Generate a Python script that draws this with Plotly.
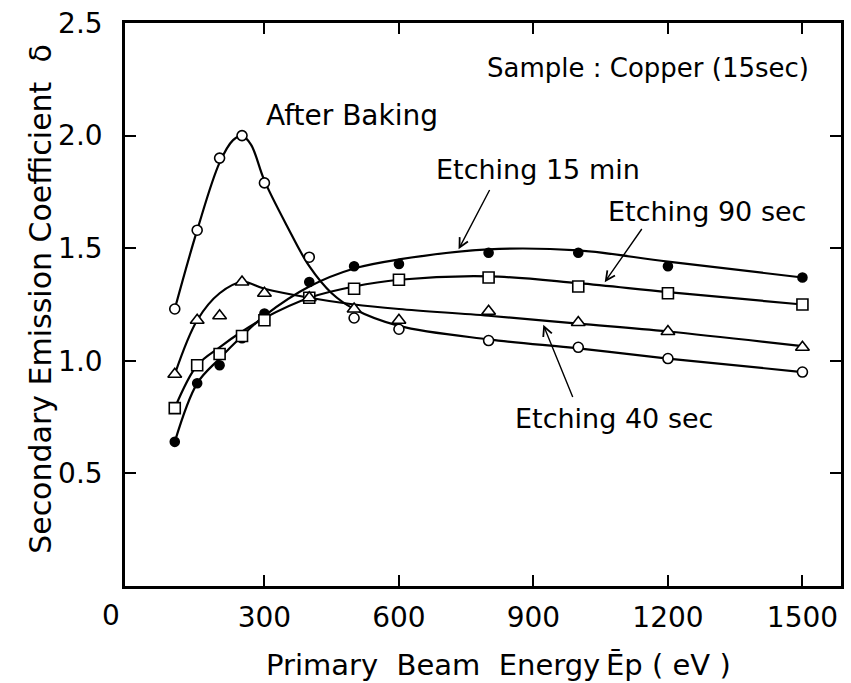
import plotly.graph_objects as go

# Primary beam energies (eV) at which delta was measured
energy = [100, 150, 200, 250, 300, 400, 500, 600, 800, 1000, 1200, 1500]

# Measured secondary emission coefficient for each surface treatment
after_baking = [1.23, 1.58, 1.90, 2.00, 1.79, 1.46, 1.19, 1.14, 1.09, 1.06, 1.01, 0.95]
etch_15min = [0.64, 0.90, 0.98, 1.10, 1.21, 1.35, 1.42, 1.43, 1.48, 1.48, 1.42, 1.37]
etch_90sec = [0.79, 0.98, 1.03, 1.11, 1.18, 1.28, 1.32, 1.36, 1.37, 1.33, 1.30, 1.25]
etch_40sec = [0.94, 1.18, 1.20, 1.35, 1.30, 1.28, 1.23, 1.18, 1.22, 1.17, 1.13, 1.06]

# Hand-fitted trend curves (node energies and values)
fit_ab_x = [100, 150, 200, 230, 250, 270, 300, 350, 400, 450, 500, 600, 800, 1000, 1200, 1500]
fit_ab_y = [1.23, 1.58, 1.88, 1.98, 2.00, 1.96, 1.80, 1.60, 1.42, 1.30, 1.23, 1.155, 1.095, 1.055, 1.01, 0.95]
fit_x = [100, 150, 200, 250, 300, 400, 500, 600, 800, 1000, 1200, 1500]
fit_15min = [0.64, 0.90, 1.01, 1.11, 1.20, 1.33, 1.41, 1.45, 1.495, 1.49, 1.44, 1.37]
fit_90sec = [0.79, 0.98, 1.06, 1.13, 1.19, 1.28, 1.33, 1.36, 1.375, 1.345, 1.305, 1.25]
fit_40sec = [0.94, 1.18, 1.30, 1.35, 1.32, 1.28, 1.25, 1.23, 1.20, 1.165, 1.13, 1.065]

x_ticks = [300, 600, 900, 1200, 1500]
y_ticks = [0.5, 1.0, 1.5, 2.0, 2.5]

FONT = "DejaVu Sans, sans-serif"
INK = "black"

fig = go.Figure()

for fx, fy in [(fit_ab_x, fit_ab_y), (fit_x, fit_15min), (fit_x, fit_90sec), (fit_x, fit_40sec)]:
    fig.add_trace(go.Scatter(x=fx, y=fy, mode="lines",
                             line=dict(color=INK, width=2.2, shape="spline", smoothing=1.0),
                             hoverinfo="skip", showlegend=False))

series = [
    ("After Baking", after_baking, "circle", 10, "white"),
    ("Etching 15 min", etch_15min, "circle", 9, INK),
    ("Etching 90 sec", etch_90sec, "square", 11, "white"),
    ("Etching 40 sec", etch_40sec, "triangle-up", 12, "white"),
]
for name, vals, sym, size, fill in series:
    fig.add_trace(go.Scatter(x=energy, y=vals, mode="markers", name=name,
                             marker=dict(symbol=sym, size=size, color=fill,
                                         line=dict(color=INK, width=1.6)),
                             showlegend=False))

labels = [
    ("Sample : Copper (15sec)", 1155, 2.30, 26),
    ("After Baking", 495, 2.09, 28),
    ("Etching 15 min", 911, 1.85, 27),
    ("Etching 90 sec", 1288, 1.665, 27),
    ("Etching 40 sec", 1079, 0.745, 27),
]
for text, x, y, sz in labels:
    fig.add_annotation(x=x, y=y, text=text, showarrow=False,
                       font=dict(family=FONT, size=sz, color=INK))

# Leader arrows from labels to their curves: (tip_x, tip_y, tail_x, tail_y)
leaders = [(733, 1.495, 804, 1.765), (1059, 1.349, 1144, 1.592), (922, 1.16, 989, 0.833)]
for tx, ty, sx, sy in leaders:
    fig.add_annotation(x=tx, y=ty, ax=sx, ay=sy, xref="x", yref="y", axref="x", ayref="y",
                       text="", showarrow=True, arrowhead=5, arrowsize=1.3,
                       arrowwidth=1.4, arrowcolor=INK)

# Shared origin label
fig.add_annotation(x=0, y=0, xref="paper", yref="paper", text="0", showarrow=False,
                   xanchor="center", yanchor="middle", xshift=-14, yshift=-29,
                   font=dict(family=FONT, size=28, color=INK))

# Axis titles
fig.add_annotation(x=0.5216, y=0, xref="paper", yref="paper", showarrow=False,
                   text="Primary\u00a0\u00a0Beam\u00a0\u00a0Energy\u2009Ēp\u00a0(\u00a0eV\u00a0)",
                   xanchor="center", yanchor="middle", yshift=-79,
                   font=dict(family=FONT, size=29, color=INK))
fig.add_annotation(x=0, y=0.51, xref="paper", yref="paper", showarrow=False,
                   text="Secondary\u00a0Emission\u00a0Coefficient\u00a0\u00a0δ", textangle=-90,
                   xanchor="center", yanchor="middle", xshift=-84,
                   font=dict(family=FONT, size=30, color=INK))

axis_common = dict(showline=True, linecolor=INK, linewidth=2.5, mirror="ticks",
                   ticks="inside", ticklen=11, tickwidth=2, tickcolor=INK,
                   showgrid=False, zeroline=False,
                   tickfont=dict(family=FONT, size=28, color=INK))

fig.update_xaxes(range=[-11, 1586], tickvals=x_ticks, ticklabelstandoff=5, **axis_common)
fig.update_yaxes(range=[0, 2.5], tickvals=y_ticks, ticktext=[f"{v:.1f}" for v in y_ticks],
                 ticklabelstandoff=14, **axis_common)

fig.update_layout(width=851, height=683, margin=dict(l=125, r=7, t=19, b=97),
                  paper_bgcolor="white", plot_bgcolor="white",
                  font=dict(family=FONT, color=INK))

fig.write_html("out.html")
